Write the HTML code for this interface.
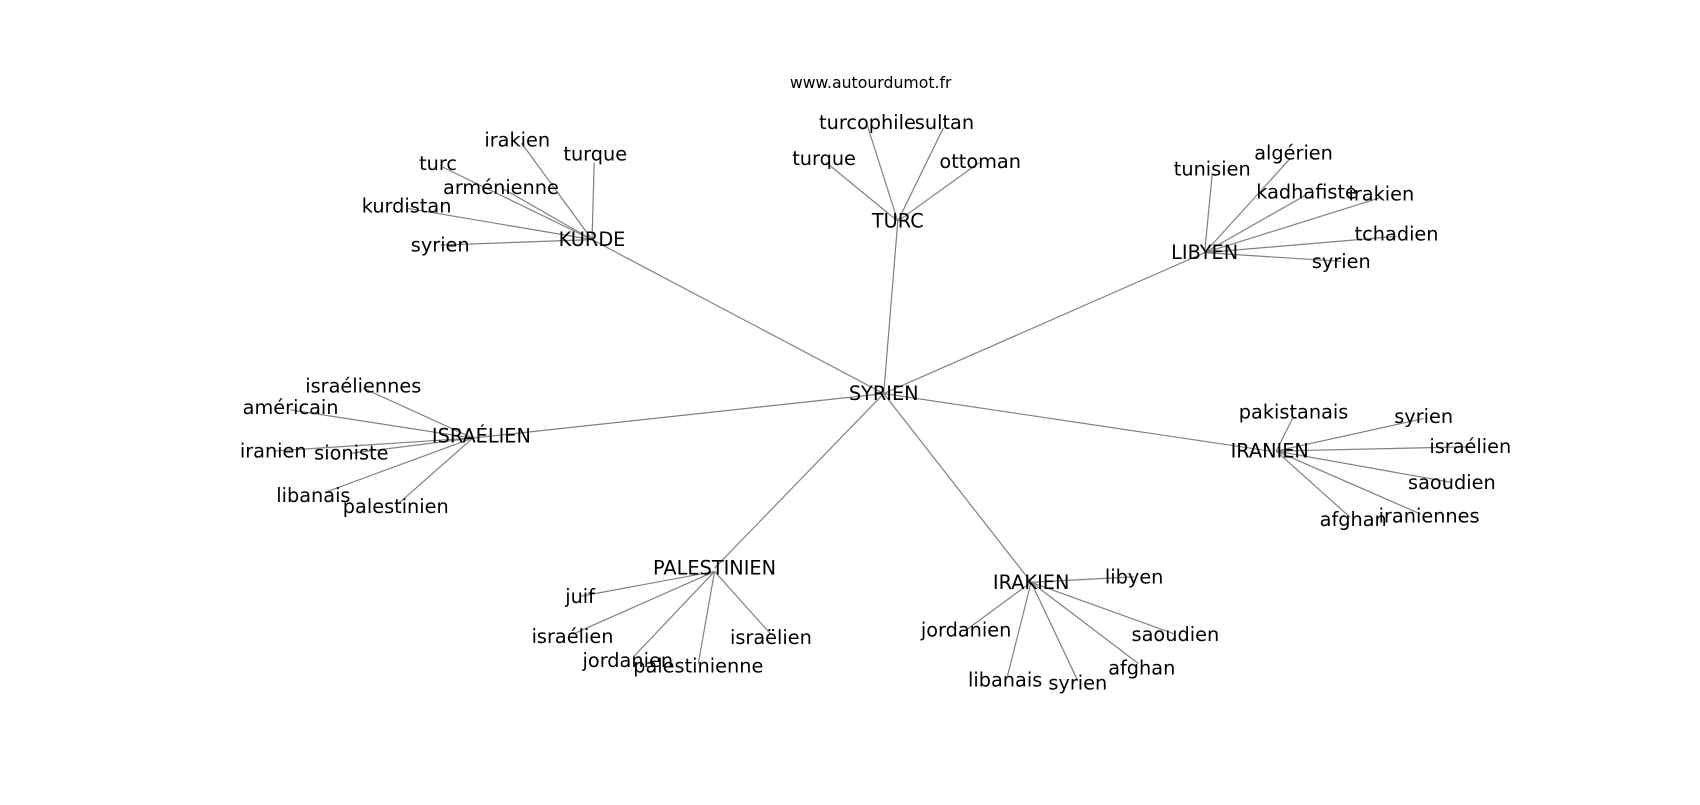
<!DOCTYPE html>
<html><head><meta charset="utf-8"><style>
html,body{margin:0;padding:0;background:#fff;}
svg text{font-family:"DejaVu Sans","Liberation Sans",sans-serif;font-size:17.8px;fill:#000;text-anchor:middle;dominant-baseline:central;}
</style></head><body>
<svg width="1700" height="800" viewBox="0 0 1700 800" xmlns="http://www.w3.org/2000/svg">
<g transform="scale(1.0843)">
<g stroke="#808080" stroke-width="1.1" fill="none">
<line x1="815" y1="363" x2="546" y2="221"/>
<line x1="815" y1="363" x2="828" y2="204"/>
<line x1="815" y1="363" x2="1111" y2="233"/>
<line x1="815" y1="363" x2="436" y2="404"/>
<line x1="815" y1="363" x2="1171" y2="416"/>
<line x1="815" y1="363" x2="659" y2="524"/>
<line x1="815" y1="363" x2="951" y2="537"/>
<line x1="546" y1="221" x2="481" y2="132"/>
<line x1="546" y1="221" x2="548" y2="150"/>
<line x1="546" y1="221" x2="408" y2="154"/>
<line x1="546" y1="221" x2="462" y2="173"/>
<line x1="546" y1="221" x2="375" y2="192"/>
<line x1="546" y1="221" x2="406" y2="226"/>
<line x1="828" y1="204" x2="800" y2="116"/>
<line x1="828" y1="204" x2="870" y2="118"/>
<line x1="828" y1="204" x2="762" y2="150"/>
<line x1="828" y1="204" x2="903" y2="150"/>
<line x1="1111" y1="233" x2="1118" y2="160"/>
<line x1="1111" y1="233" x2="1190" y2="146"/>
<line x1="1111" y1="233" x2="1204" y2="180"/>
<line x1="1111" y1="233" x2="1274" y2="182"/>
<line x1="1111" y1="233" x2="1288" y2="218"/>
<line x1="1111" y1="233" x2="1237" y2="241"/>
<line x1="436" y1="404" x2="335" y2="358"/>
<line x1="436" y1="404" x2="268" y2="378"/>
<line x1="436" y1="404" x2="252" y2="416"/>
<line x1="436" y1="404" x2="324" y2="418"/>
<line x1="436" y1="404" x2="300" y2="454"/>
<line x1="436" y1="404" x2="368" y2="464"/>
<line x1="1177" y1="416" x2="1193" y2="384"/>
<line x1="1177" y1="416" x2="1313" y2="386"/>
<line x1="1177" y1="416" x2="1356" y2="412"/>
<line x1="1177" y1="416" x2="1339" y2="445"/>
<line x1="1177" y1="416" x2="1245" y2="477"/>
<line x1="1177" y1="416" x2="1310" y2="474"/>
<line x1="659" y1="527" x2="535" y2="550"/>
<line x1="659" y1="527" x2="528" y2="585"/>
<line x1="659" y1="527" x2="584" y2="606"/>
<line x1="659" y1="527" x2="644" y2="612"/>
<line x1="659" y1="527" x2="711" y2="585"/>
<line x1="951" y1="537" x2="1046" y2="532"/>
<line x1="951" y1="537" x2="891" y2="581"/>
<line x1="951" y1="537" x2="1084" y2="585"/>
<line x1="951" y1="537" x2="929" y2="624"/>
<line x1="951" y1="537" x2="994" y2="628"/>
<line x1="951" y1="537" x2="1050" y2="612"/>
</g>
<text x="803" y="76" style="font-size:14.5px">www.autourdumot.fr</text>
<text x="815" y="363">SYRIEN</text>
<text x="546" y="221">KURDE</text>
<text x="477" y="129">irakien</text>
<text x="549" y="142">turque</text>
<text x="404" y="151">turc</text>
<text x="462" y="173">arménienne</text>
<text x="375" y="190">kurdistan</text>
<text x="406" y="226">syrien</text>
<text x="828" y="204">TURC</text>
<text x="800" y="113">turcophile</text>
<text x="871" y="113">sultan</text>
<text x="760" y="146">turque</text>
<text x="904" y="149">ottoman</text>
<text x="1111" y="233">LIBYEN</text>
<text x="1118" y="156">tunisien</text>
<text x="1193" y="141">algérien</text>
<text x="1205" y="177">kadhafiste</text>
<text x="1274" y="179">irakien</text>
<text x="1288" y="216">tchadien</text>
<text x="1237" y="241">syrien</text>
<text x="444" y="402">ISRAÉLIEN</text>
<text x="335" y="356">israéliennes</text>
<text x="268" y="376">américain</text>
<text x="252" y="416">iranien</text>
<text x="324" y="418">sioniste</text>
<text x="289" y="457">libanais</text>
<text x="365" y="467">palestinien</text>
<text x="1171" y="416">IRANIEN</text>
<text x="1193" y="380">pakistanais</text>
<text x="1313" y="384">syrien</text>
<text x="1356" y="412">israélien</text>
<text x="1339" y="445">saoudien</text>
<text x="1248" y="479">afghan</text>
<text x="1318" y="476">iraniennes</text>
<text x="659" y="524">PALESTINIEN</text>
<text x="535" y="550">juif</text>
<text x="528" y="587">israélien</text>
<text x="579" y="609">jordanien</text>
<text x="644" y="614">palestinienne</text>
<text x="711" y="588">israëlien</text>
<text x="951" y="537">IRAKIEN</text>
<text x="1046" y="532">libyen</text>
<text x="891" y="581">jordanien</text>
<text x="1084" y="585">saoudien</text>
<text x="927" y="627">libanais</text>
<text x="994" y="630">syrien</text>
<text x="1053" y="616">afghan</text>
</g>
</svg>
</body></html>
